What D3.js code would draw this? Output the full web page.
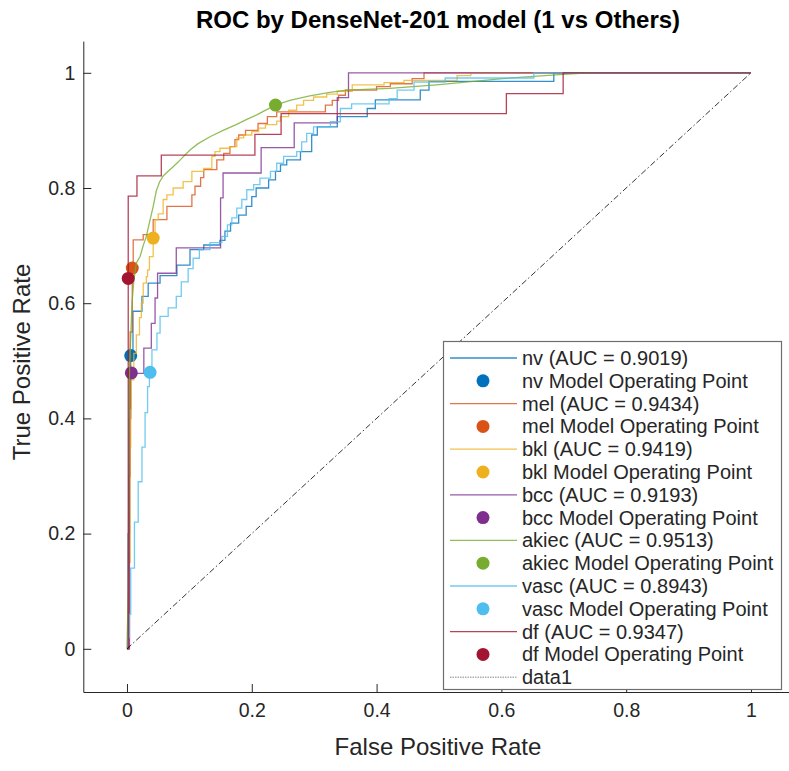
<!DOCTYPE html>
<html>
<head>
<meta charset="utf-8">
<script src="https://cdn.jsdelivr.net/npm/d3@7"></script>
<style>
  body { margin: 0; background: #fff; }
  svg { font-family: 'Liberation Sans', Arial, sans-serif; }
</style>
</head>
<body>
<div class="chart"></div>
<script>
const width = 789
const height = 771

// class names and AUC values from the legend
const classes = ['nv', 'mel', 'bkl', 'bcc', 'akiec', 'vasc', 'df']
const aucs = [0.9019, 0.9434, 0.9419, 0.9193, 0.9513, 0.8943, 0.9347]

// operating points (fpr, tpr)
const opFpr = [0.006, 0.0085, 0.042, 0.007, 0.238, 0.037, 0.002]
const opTpr = [0.509, 0.661, 0.713, 0.479, 0.944, 0.480, 0.643]

// roc curves, [fpr, tpr] at each step
const nvRoc = [[0,0],[0.002,0.2],[0.004,0.4],[0.006,0.509],[0.0096,0.586],[0.024,0.612],[0.034,0.635],[0.053,0.648],[0.08,0.666],[0.101,0.693],[0.123,0.701],[0.149,0.709],[0.157,0.725],[0.166,0.739],[0.179,0.753],[0.191,0.768],[0.200,0.785],[0.207,0.800],[0.227,0.814],[0.238,0.829],[0.246,0.840],[0.256,0.849],[0.278,0.863],[0.296,0.892],[0.305,0.906],[0.337,0.924],[0.385,0.938],[0.398,0.953],[0.470,0.970],[0.484,0.985],[0.684,1],[1,1]]
const melRoc = [[0,0],[0.003,0.3],[0.005,0.55],[0.0085,0.661],[0.010,0.71],[0.026,0.719],[0.042,0.745],[0.064,0.768],[0.104,0.788],[0.109,0.803],[0.118,0.818],[0.123,0.832],[0.144,0.849],[0.155,0.86],[0.165,0.872],[0.173,0.884],[0.179,0.892],[0.19,0.900],[0.21,0.912],[0.225,0.924],[0.24,0.932],[0.318,0.944],[0.329,0.952],[0.339,0.961],[0.35,0.970],[0.40,0.976],[0.422,0.981],[0.457,0.99],[0.476,1],[1,1]]
const bklRoc = [[0,0],[0.003,0.15],[0.005,0.35],[0.006,0.415],[0.007,0.467],[0.011,0.513],[0.015,0.545],[0.020,0.575],[0.023,0.600],[0.026,0.635],[0.031,0.646],[0.033,0.658],[0.036,0.681],[0.042,0.713],[0.045,0.745],[0.05,0.755],[0.058,0.78],[0.064,0.788],[0.074,0.800],[0.09,0.811],[0.104,0.829],[0.123,0.834],[0.136,0.855],[0.141,0.863],[0.149,0.869],[0.165,0.872],[0.176,0.887],[0.187,0.892],[0.200,0.898],[0.211,0.904],[0.222,0.91],[0.240,0.916],[0.246,0.924],[0.259,0.935],[0.272,0.944],[0.283,0.952],[0.299,0.958],[0.32,0.963],[0.337,0.968],[0.361,0.979],[0.412,0.983],[0.444,0.987],[0.529,0.995],[0.551,1],[1,1]]
const bccRoc = [[0,0],[0.004,0.478],[0.027,0.522],[0.039,0.565],[0.045,0.609],[0.049,0.652],[0.079,0.696],[0.150,0.783],[0.154,0.826],[0.215,0.870],[0.268,0.913],[0.337,0.957],[0.355,1],[1,1]]
const akiecRoc = [[0,0],[0.002,0.1],[0.003,0.3],[0.004,0.484],[0.006,0.54],[0.008,0.6],[0.011,0.64],[0.015,0.67],[0.021,0.681],[0.026,0.70],[0.031,0.716],[0.036,0.74],[0.042,0.768],[0.047,0.795],[0.052,0.810],[0.058,0.821],[0.066,0.829],[0.074,0.837],[0.082,0.845],[0.090,0.854],[0.101,0.866],[0.114,0.877],[0.133,0.889],[0.154,0.900],[0.175,0.910],[0.192,0.919],[0.208,0.927],[0.220,0.934],[0.238,0.944],[0.261,0.952],[0.293,0.960],[0.325,0.966],[0.352,0.970],[0.421,0.973],[0.496,0.979],[0.602,0.990],[0.693,0.997],[0.74,1],[1,1]]
const vascRoc = [[0,0],[0.002,0.02],[0.004,0.06],[0.006,0.14],[0.012,0.22],[0.018,0.29],[0.024,0.35],[0.029,0.41],[0.033,0.455],[0.036,0.48],[0.040,0.519],[0.048,0.548],[0.053,0.577],[0.066,0.592],[0.079,0.612],[0.087,0.637],[0.098,0.66],[0.106,0.678],[0.116,0.693],[0.133,0.705],[0.152,0.716],[0.161,0.736],[0.168,0.748],[0.176,0.765],[0.184,0.780],[0.192,0.797],[0.203,0.806],[0.213,0.817],[0.230,0.829],[0.240,0.843],[0.251,0.855],[0.272,0.863],[0.280,0.880],[0.288,0.895],[0.299,0.906],[0.326,0.915],[0.342,0.938],[0.36,0.946],[0.42,0.955],[0.433,0.970],[0.46,0.984],[0.51,0.991],[0.652,1],[1,1]]
const dfRoc = [[0,0],[0.002,0.786],[0.016,0.821],[0.055,0.857],[0.205,0.893],[0.247,0.929],[0.608,0.964],[0.699,1],[1,1]]

const rocs = [nvRoc, melRoc, bklRoc, bccRoc, akiecRoc, vascRoc, dfRoc]
const xTicks = [0, 0.2, 0.4, 0.6, 0.8, 1]
const yTicks = [0, 0.2, 0.4, 0.6, 0.8, 1]

const colors = ['#0072BD', '#D95319', '#EDB120', '#7E2F8E', '#77AC30', '#4DBEEE', '#A2142F']

let svg = d3.select('.chart')
	.append('svg')
	.attr('width', width)
	.attr('height', height)

let x = d3.scaleLinear().domain([-0.07, 1.07]).range([83.3, 83.3 + 1.14 * 624])
let y = d3.scaleLinear().domain([-0.075, 1.055]).range([692, 692 - 1.13 * 576])

let xAxis = svg.append('g')
	.attr('transform', 'translate(0,' + y(-0.075) + ')')
	.call(d3.axisBottom(x).tickValues(xTicks).tickSizeInner(-8).tickSizeOuter(0).tickPadding(11).tickFormat(d3.format('~g')))
let yAxis = svg.append('g')
	.attr('transform', 'translate(' + x(-0.07) + ',0)')
	.call(d3.axisLeft(y).tickValues(yTicks).tickSizeInner(-8).tickSizeOuter(0).tickPadding(8).tickFormat(d3.format('~g')))

svg.selectAll('.domain').attr('stroke', '#262626')
svg.selectAll('.tick line').attr('stroke', '#262626')
svg.selectAll('.tick text').attr('fill', '#262626').style('font-size', '19.5px').style('font-family', "'Liberation Sans', Arial, sans-serif")

// curves and operating points, in plotting order
let line = d3.line()
	.x((d) => x(d[0]))
	.y((d) => y(d[1]))

let plot = svg.append('g')
classes.forEach((c, i) => {
	plot.append('path')
		.datum(rocs[i])
		.attr('fill', 'none')
		.attr('stroke', colors[i])
		.attr('stroke-opacity', 0.8)
		.attr('stroke-width', 1.3)
		.attr('d', line.curve(c === 'akiec' ? d3.curveLinear : d3.curveStepAfter))
	plot.append('circle')
		.attr('cx', x(opFpr[i]))
		.attr('cy', y(opTpr[i]))
		.attr('r', 6.5)
		.attr('fill', colors[i])
})

plot.append('path')
	.datum([[0, 0], [1, 1]])
	.attr('fill', 'none')
	.attr('stroke', '#000')
	.attr('stroke-width', 0.8)
	.attr('stroke-dasharray', '6,2.5,1.5,2.5')
	.attr('d', line.curve(d3.curveLinear))

// title and axis labels
svg.append('text')
	.attr('x', 438)
	.attr('y', 28)
	.attr('text-anchor', 'middle')
	.style('font-size', '24px')
	.style('font-weight', 'bold')
	.text('ROC by DenseNet-201 model (1 vs Others)')

svg.append('text')
	.attr('x', 438)
	.attr('y', 755)
	.attr('text-anchor', 'middle')
	.attr('fill', '#262626')
	.style('font-size', '24px')
	.text('False Positive Rate')

svg.append('text')
	.attr('transform', 'translate(30,362) rotate(-90)')
	.attr('text-anchor', 'middle')
	.attr('fill', '#262626')
	.style('font-size', '24px')
	.text('True Positive Rate')

// legend
let entries = []
classes.forEach((c, i) => {
	entries.push({ label: c + ' (AUC = ' + aucs[i].toFixed(4) + ')', kind: 'line', color: colors[i] })
	entries.push({ label: c + ' Model Operating Point', kind: 'dot', color: colors[i] })
})
entries.push({ label: 'data1', kind: 'diag', color: '#000' })

let legend = svg.append('g')
legend.append('rect')
	.attr('x', 443.5)
	.attr('y', 341.5)
	.attr('width', 338)
	.attr('height', 348)
	.attr('fill', '#fff')
	.attr('stroke', '#6e6e6e')
	.attr('stroke-width', 1.2)

let item = legend.selectAll('.legend-item')
	.data(entries)
	.enter().append('g')
	.attr('class', 'legend-item')
	.attr('transform', (d, i) => 'translate(0,' + (358 + i * 22.8) + ')')

item.filter((d) => d.kind !== 'dot')
	.append('line')
	.attr('x1', 450)
	.attr('x2', 517)
	.attr('stroke', (d) => d.color)
	.attr('stroke-opacity', (d) => d.kind === 'diag' ? 0.6 : 0.8)
	.attr('stroke-width', (d) => d.kind === 'diag' ? 0.8 : 1.3)
	.attr('stroke-dasharray', (d) => d.kind === 'diag' ? '1.5,1' : null)

item.filter((d) => d.kind === 'dot')
	.append('circle')
	.attr('cx', 483)
	.attr('r', 6.5)
	.attr('fill', (d) => d.color)

item.append('text')
	.attr('x', 522)
	.attr('dy', '0.35em')
	.attr('fill', '#262626')
	.style('font-size', '20px')
	.text((d) => d.label)
</script>
</body>
</html>
